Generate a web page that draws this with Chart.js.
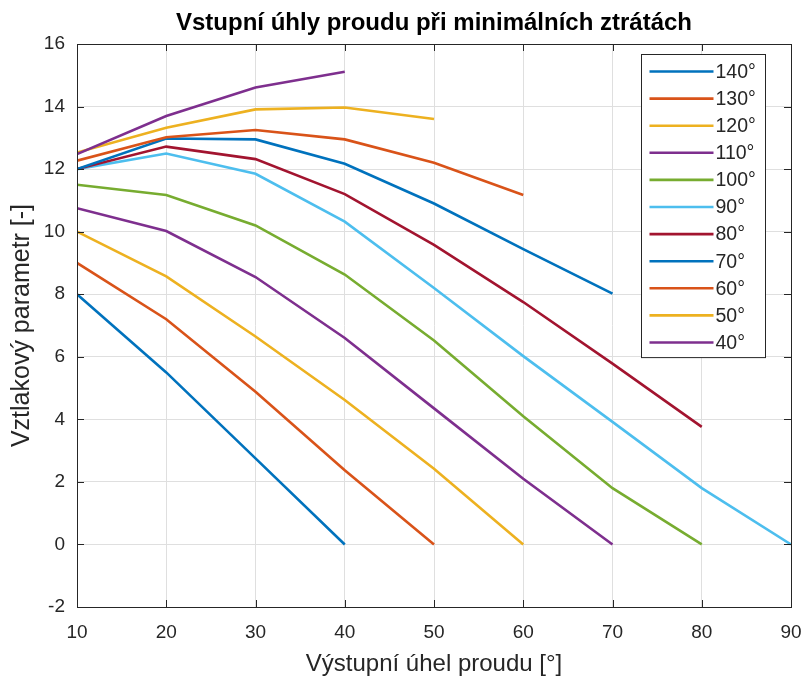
<!DOCTYPE html>
<html>
<head>
<meta charset="utf-8">
<script src="https://cdn.jsdelivr.net/npm/chart.js@4.4.1/dist/chart.umd.min.js"></script>
<style>
  html, body { margin: 0; padding: 0; background: #fff; }
  canvas { display: block; }
</style>
</head>
<body>
<canvas id="lossChart" width="804" height="677"></canvas>
<script>
// outlet angle (x axis)
const outletAngles = [10, 20, 30, 40, 50, 60, 70, 80, 90];

// lift parameter for each inlet angle, starting at outlet angle 10°
const inletLabels = ["140°", "130°", "120°", "110°", "100°", "90°", "80°", "70°", "60°", "50°", "40°"];
const lift140 = [8.0, 5.5, 2.75, 0];
const lift130 = [9.0, 7.2, 4.88, 2.37, 0];
const lift120 = [10.0, 8.57, 6.65, 4.62, 2.42, 0];
const lift110 = [10.75, 10.02, 8.55, 6.6, 4.35, 2.1, 0];
const lift100 = [11.5, 11.17, 10.2, 8.63, 6.52, 4.1, 1.8, 0];
const lift90 = [12.0, 12.5, 11.85, 10.32, 8.2, 6.02, 3.92, 1.8, 0];
const lift80 = [12.0, 12.72, 12.32, 11.2, 9.58, 7.75, 5.78, 3.76];
const lift70 = [12.0, 12.98, 12.95, 12.17, 10.9, 9.44, 8.02];
const lift60 = [12.27, 13.02, 13.25, 12.95, 12.2, 11.17];
const lift50 = [12.53, 13.32, 13.91, 13.97, 13.6];
const lift40 = [12.48, 13.7, 14.61, 15.11];

const yTicks = [-2, 0, 2, 4, 6, 8, 10, 12, 14, 16];

const seriesValues = [lift140, lift130, lift120, lift110, lift100, lift90, lift80, lift70, lift60, lift50, lift40];
// default matlab line colour order
const lineColors = ["#0072BD", "#D95319", "#EDB120", "#7E2F8E", "#77AC30", "#4DBEEE", "#A2142F"];

const FONT = "'Liberation Sans', Arial, Helvetica, sans-serif";
const AXIS_COLOR = "#262626";

const datasets = seriesValues.map((vals, i) => ({
  label: inletLabels[i],
  data: vals.map((v, j) => ({ x: outletAngles[j], y: v })),
  borderColor: lineColors[i % lineColors.length],
  backgroundColor: lineColors[i % lineColors.length],
  borderWidth: 2.6,
  pointRadius: 0,
  tension: 0,
  fill: false,
  order: seriesValues.length - i, // later series drawn on top
}));

// box around the plot + inward tick marks
const boxPlugin = {
  id: "box",
  afterDatasetsDraw(chart) {
    const { ctx, chartArea: a, scales } = chart;
    const tl = 7;
    ctx.save();
    ctx.strokeStyle = AXIS_COLOR;
    ctx.lineWidth = 1;
    ctx.beginPath();
    scales.x.ticks.forEach((t) => {
      const px = Math.round(scales.x.getPixelForValue(t.value)) + 0.5;
      ctx.moveTo(px, a.bottom);
      ctx.lineTo(px, a.bottom - tl);
      ctx.moveTo(px, a.top);
      ctx.lineTo(px, a.top + tl);
    });
    scales.y.ticks.forEach((t) => {
      const py = Math.round(scales.y.getPixelForValue(t.value)) + 0.5;
      ctx.moveTo(a.left, py);
      ctx.lineTo(a.left + tl, py);
      ctx.moveTo(a.right, py);
      ctx.lineTo(a.right - tl, py);
    });
    ctx.stroke();
    ctx.strokeRect(Math.round(a.left) + 0.5, Math.round(a.top) + 0.5, Math.round(a.right - a.left), Math.round(a.bottom - a.top));
    ctx.restore();
  },
};

// legend inside the plot, top right
const insideLegend = {
  id: "insideLegend",
  afterDraw(chart) {
    const { ctx, chartArea: a } = chart;
    const boxW = 124, rowH = 27.1;
    const n = chart.data.datasets.length;
    const boxH = n * rowH + 5;
    const bx = Math.round(a.right - 26 - boxW) + 0.5;
    const by = Math.round(a.top + 10) + 0.5;
    ctx.save();
    ctx.fillStyle = "#fff";
    ctx.fillRect(bx, by, boxW, boxH);
    ctx.strokeStyle = AXIS_COLOR;
    ctx.lineWidth = 1;
    ctx.strokeRect(bx, by, boxW, boxH);
    ctx.font = "19.5px " + FONT;
    ctx.textBaseline = "middle";
    ctx.fillStyle = AXIS_COLOR;
    chart.data.datasets.forEach((ds, i) => {
      const y = by + 17 + i * rowH;
      ctx.strokeStyle = ds.borderColor;
      ctx.lineWidth = ds.borderWidth;
      ctx.beginPath();
      ctx.moveTo(bx + 8, y);
      ctx.lineTo(bx + 72, y);
      ctx.stroke();
      ctx.fillText(ds.label, bx + 74, y + 1);
    });
    ctx.restore();
  },
};

new Chart(document.getElementById("lossChart"), {
  type: "line",
  data: { datasets: datasets },
  plugins: [boxPlugin, insideLegend],
  options: {
    responsive: false,
    animation: false,
    events: [],
    layout: {
      padding: { left: 0, right: 13, top: 0, bottom: 0 },
    },
    plugins: {
      legend: { display: false },
      tooltip: { enabled: false },
      title: {
        display: true,
        fullSize: false,
        text: "Vstupní úhly proudu při minimálních ztrátách",
        color: "#000",
        font: { family: FONT, size: 24, weight: "bold", lineHeight: 1.2 },
        padding: { top: 9, bottom: 6.2 },
      },
    },
    scales: {
      x: {
        type: "linear",
        min: 10,
        max: 90,
        afterFit: (s) => {
          s.height = 70;
          s.paddingLeft = 0;
          s.paddingRight = 0;
        },
        ticks: {
          stepSize: 10,
          color: AXIS_COLOR,
          padding: 14,
          maxRotation: 0,
          font: { family: FONT, size: 19 },
        },
        grid: { color: "#dfdfdf", lineWidth: 1, drawTicks: false },
        border: { color: AXIS_COLOR, width: 1 },
        title: {
          display: true,
          text: "Výstupní úhel proudu [°]",
          color: AXIS_COLOR,
          font: { family: FONT, size: 24, lineHeight: 1 },
          padding: { top: 0, bottom: 1 },
        },
      },
      y: {
        type: "linear",
        min: yTicks[0],
        max: yTicks[yTicks.length - 1],
        afterFit: (s) => {
          s.width = 77;
          s.paddingTop = 0;
          s.paddingBottom = 0;
        },
        afterBuildTicks: (s) => {
          s.ticks = yTicks.map((v) => ({ value: v }));
        },
        ticks: {
          color: AXIS_COLOR,
          padding: 12,
          font: { family: FONT, size: 19 },
        },
        grid: { color: "#dfdfdf", lineWidth: 1, drawTicks: false },
        border: { color: AXIS_COLOR, width: 1 },
        title: {
          display: true,
          text: "Vztlakový parametr [-]",
          color: AXIS_COLOR,
          font: { family: FONT, size: 25, lineHeight: 1 },
          padding: { top: 10, bottom: 0 },
        },
      },
    },
  },
});
</script>
</body>
</html>
